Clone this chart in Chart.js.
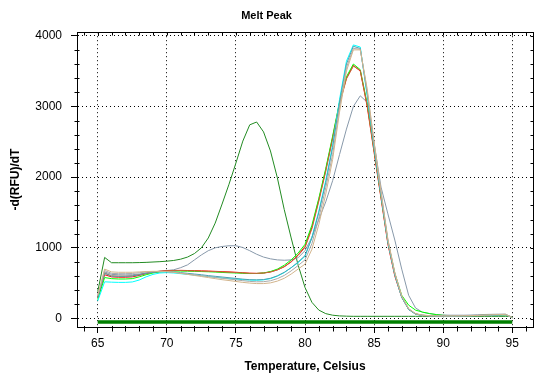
<!DOCTYPE html>
<html><head><meta charset="utf-8">
<script src="https://cdn.jsdelivr.net/npm/chart.js@4.4.1/dist/chart.umd.min.js"></script>
<style>html,body{margin:0;padding:0;background:#fff;}#wrap{width:552px;height:384px;}</style>
</head><body><div id="wrap"><canvas id="c" width="552" height="384"></canvas></div>
<script>
const temperatures = [65,65.5,66,66.5,67,67.5,68,68.5,69,69.5,
  70,70.5,71,71.5,72,72.5,73,73.5,74,74.5,
  75,75.5,76,76.5,77,77.5,78,78.5,79,79.5,
  80,80.5,81,81.5,82,82.5,83,83.5,84,84.5,
  85,85.5,86,86.5,87,87.5,88,88.5,89,89.5,
  90,90.5,91,91.5,92,92.5,93,93.5,94,94.5,
  95];

const darkGreen = [380,865,790,790,790,790,792,795,800,805,
  812,822,840,870,920,1000,1140,1350,1620,1900,
  2200,2510,2740,2780,2640,2370,1990,1540,1140,760,
  440,230,120,70,48,38,34,32,32,32,
  32,32,32,32,32,32,32,32,32,32,
  32,32,32,32,32,32,32,32,32,32,
  28];
const slateGray = [300,660,625,620,618,620,630,645,660,670,
  680,690,720,760,830,900,960,1000,1020,1030,
  1030,1005,960,910,870,845,830,825,830,860,
  960,1150,1400,1650,1950,2320,2680,3000,3150,3060,
  2480,1860,1480,1110,700,330,150,90,70,58,
  50,48,48,48,50,54,58,60,62,62,
  20];
const red = [290,620,590,585,585,590,610,635,655,668,
  675,680,682,680,678,675,672,668,664,660,
  655,648,642,640,645,660,690,735,805,900,
  1020,1290,1680,2100,2560,3050,3400,3580,3500,3000,
  2350,1700,1050,600,300,130,65,45,40,38,
  37,37,38,39,40,42,45,48,52,55,
  12];
const lime = [270,580,565,560,560,565,590,620,645,660,
  668,672,672,670,668,665,662,658,652,648,
  645,640,637,638,645,665,700,755,830,925,
  1050,1320,1700,2120,2580,3060,3420,3600,3520,3040,
  2390,1730,1090,640,330,190,120,92,72,56,
  46,42,40,40,41,43,46,49,52,54,
  14];
const cyan = [250,520,515,512,512,518,545,590,625,645,
  650,645,635,625,615,605,595,585,575,565,
  558,550,545,543,548,565,600,650,720,790,
  880,1150,1520,1950,2450,3100,3640,3870,3840,3150,
  2420,1750,1080,620,300,130,62,45,40,38,
  37,37,38,39,40,42,45,48,52,55,
  12];
const cadet = [300,640,600,598,598,602,620,640,655,662,
  664,660,650,640,630,620,608,598,588,578,
  568,558,550,548,552,570,605,655,720,800,
  890,1140,1500,1920,2420,3060,3600,3850,3820,3180,
  2440,1760,1090,630,305,132,64,46,40,38,
  37,37,38,39,41,43,46,50,54,57,
  12];
const tan = [330,700,660,655,655,655,660,665,668,668,
  665,655,640,625,610,595,580,565,550,538,
  525,512,502,495,495,505,530,570,630,700,
  770,980,1330,1760,2250,2920,3500,3800,3800,3250,
  2500,1800,1120,650,320,140,70,50,42,39,
  38,38,39,40,42,45,49,53,57,60,
  15];
const silver = [320,680,640,635,635,638,648,658,664,666,
  664,655,642,630,618,606,594,582,570,560,
  548,536,526,520,522,535,565,610,675,750,
  830,1060,1420,1850,2320,2980,3550,3820,3810,3220,
  2480,1790,1110,645,315,138,68,48,41,39,
  38,38,39,40,42,45,49,53,57,60,
  15];
const sienna = [305,645,605,600,600,604,620,642,660,670,
  676,680,680,677,674,671,668,664,660,656,
  651,645,640,638,643,658,688,732,800,892,
  1005,1270,1660,2080,2540,3030,3390,3570,3510,3020,
  2370,1720,1070,615,308,134,66,46,40,38,
  37,37,38,39,41,43,46,49,53,56,
  13];
const baselineTemps = [65, 95];
const baselineValues = [-50, -50];

const xTickLabels = [65,70,75,80,85,90,95];
const yTickLabels = [0,1000,2000,3000,4000];
const xMinorStep = 1, yMinorStep = 200;

const FONT = "'Liberation Sans', Arial, sans-serif";
const toPts = (xs, ys) => xs.map((x, i) => ({x: x, y: ys[i]}));
const series = [
  {label:'tan', data: tan, color:'#D2B48C'},
  {label:'silver', data: silver, color:'#A9A9A9'},
  {label:'cadet', data: cadet, color:'#4F9FB0'},
  {label:'cyan', data: cyan, color:'#00FFFF'},
  {label:'sienna', data: sienna, color:'#C8643C'},
  {label:'lime', data: lime, color:'#00FF00'},
  {label:'red', data: red, color:'#FF0000'},
  {label:'slate', data: slateGray, color:'#8899AA'},
  {label:'darkgreen', data: darkGreen, color:'#228B22'}
];
const datasets = [{
  label:'baseline', data: toPts(baselineTemps, baselineValues),
  borderColor:'#008000', borderWidth:3.5, pointRadius:0, fill:false
}].concat(series.map(s => ({
  label: s.label, data: toPts(temperatures, s.data),
  borderColor: s.color, borderWidth: 1, pointRadius: 0, fill: false, tension: 0
})));

function minorTicks(scale, step) {
  const out = [];
  const start = Math.ceil(scale.min / step - 1e-9);
  const end = Math.floor(scale.max / step + 1e-9);
  for (let k = start; k <= end; k++) out.push(Math.round(k * step * 1000) / 1000);
  return out;
}
const isMajor = (list, v) => list.some(m => Math.abs(m - v) < 1e-6);

const frame = {
  id: 'frame',
  afterDraw(chart) {
    const {ctx, chartArea: {left, right, top, bottom}, scales: {x, y}} = chart;
    const L = Math.round(left) + 0.5, R = Math.round(right) + 0.5;
    const T = Math.round(top) + 0.5, B = Math.round(bottom) + 0.5;
    ctx.save();
    ctx.strokeStyle = '#000';
    ctx.lineWidth = 1;
    ctx.beginPath();
    minorTicks(x, xMinorStep).forEach(v => {
      const px = Math.round(x.getPixelForValue(v)) + 0.5;
      if (!isMajor(xTickLabels, v)) { ctx.moveTo(px, B - 1.5); ctx.lineTo(px, B + 4); }
      ctx.moveTo(px, T); ctx.lineTo(px, T + 3);
    });
    minorTicks(y, yMinorStep).forEach(v => {
      const py = Math.round(y.getPixelForValue(v)) + 0.5;
      if (!isMajor(yTickLabels, v)) { ctx.moveTo(L - 3, py); ctx.lineTo(L + 2, py); }
      ctx.moveTo(R - 3, py); ctx.lineTo(R, py);
    });
    ctx.stroke();
    ctx.strokeRect(L, T, R - L, B - T);
    ctx.restore();
  }
};

new Chart(document.getElementById('c'), {
  type: 'line',
  data: { datasets: datasets },
  options: {
    responsive: false, animation: false, devicePixelRatio: 1,
    layout: { padding: { left: 0, right: 19, top: 0, bottom: 0 } },
    plugins: {
      legend: { display: false },
      tooltip: { enabled: false },
      title: { display: true, text: 'Melt Peak', color: '#000',
        font: { family: FONT, size: 11, weight: 'bold' }, padding: { top: 9, bottom: 10 } }
    },
    scales: {
      x: {
        type: 'linear', min: 63.5, max: 96.5,
        afterFit: s => { s.height = 57; },
        afterBuildTicks: s => { s.ticks = xTickLabels.map(v => ({value: v})); },
        ticks: { autoSkip: false, maxRotation: 0, padding: 3,
          color: '#000', font: { family: FONT, size: 12 },
          callback: v => String(v) },
        grid: { drawOnChartArea: true, tickLength: 6, lineWidth: 1, color: '#000', tickColor: '#000' },
        border: { display: true, color: '#000', width: 1, dash: [1, 3] },
        title: { display: true, text: 'Temperature, Celsius', color: '#000',
          font: { family: FONT, size: 12, weight: 'bold' }, padding: { top: 0, bottom: 10 } }
      },
      y: {
        type: 'linear', min: -119, max: 4050,
        afterFit: s => { s.width = 77; },
        afterBuildTicks: s => { s.ticks = yTickLabels.map(v => ({value: v})); },
        ticks: { autoSkip: false, padding: 9,
          color: '#000', font: { family: FONT, size: 12 },
          callback: v => String(v) },
        grid: { drawOnChartArea: true, tickLength: 6, lineWidth: 1, color: '#000', tickColor: '#000' },
        border: { display: true, color: '#000', width: 1, dash: [1, 3] },
        title: { display: true, text: '-d(RFU)/dT', color: '#000',
          font: { family: FONT, size: 12, weight: 'bold' }, padding: { top: 8, bottom: 0 } }
      }
    }
  },
  plugins: [frame]
});
</script>
</body></html>
